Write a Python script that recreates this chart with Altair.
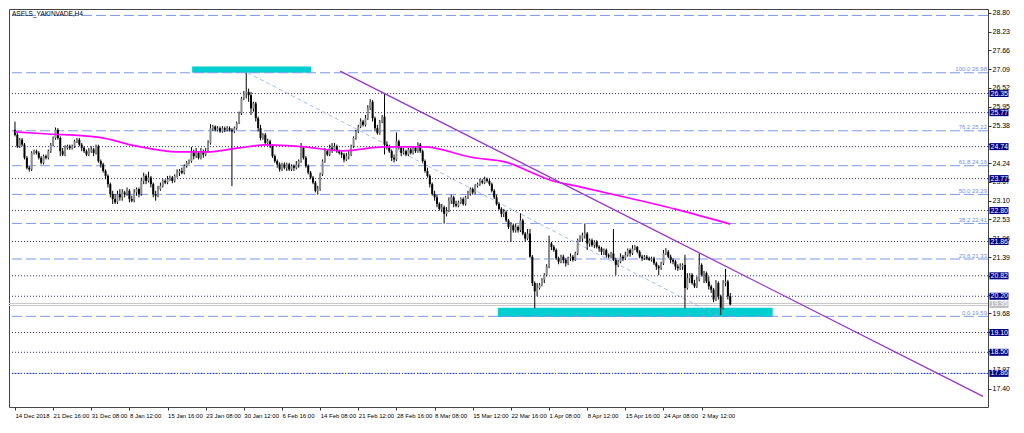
import altair as alt
import pandas as pd

# ---------------- data ----------------
symbol_title = "ASELS_YAKINVADE,H4"
first_open = 25.25

closes = [
    25.1, 24.75, 24.95, 24.8, 24.4, 24.1, 24.05, 24.55, 24.6, 24.55,
    24.4, 24.25, 24.45, 24.4, 24.6, 24.8, 25.0, 25.25, 25.0, 24.6,
    24.5, 24.7, 24.75, 24.7, 24.75, 24.9, 24.95, 24.8, 24.7, 24.6,
    24.5, 24.6, 24.65, 24.55, 24.75, 24.3, 24.2, 24.0, 23.85, 23.6,
    23.3, 23.15, 23.05, 23.3, 23.2, 23.35, 23.3, 23.4, 23.15, 23.1,
    23.35, 23.45, 23.3, 23.7, 23.85, 23.7, 23.8, 23.6, 23.3, 23.25,
    23.45, 23.55, 23.7, 23.65, 23.75, 23.8, 23.7, 23.85, 23.95, 24.0,
    23.95, 24.15, 24.25, 24.3, 24.6, 24.45, 24.55, 24.4, 24.6, 24.5,
    24.6, 24.85, 25.3, 25.35, 25.25, 25.3, 25.2, 25.3, 25.25, 25.3,
    25.25, 25.2, 25.3, 25.45, 25.75, 26.2, 26.35, 26.4, 26.3, 25.9,
    26.05, 25.6, 25.3, 25.0, 25.1, 24.85, 24.9, 24.75, 24.45, 24.3,
    24.2, 24.05, 24.2, 24.1, 24.2, 24.05, 24.15, 24.1, 24.2, 24.3,
    24.7, 24.4, 24.15, 23.95, 23.8, 23.65, 23.4, 23.45, 23.9, 24.3,
    24.6, 24.5, 24.7, 24.65, 24.75, 24.6, 24.55, 24.5, 24.35, 24.45,
    24.5, 24.75, 25.0, 25.2, 25.35, 25.5, 25.4, 25.6, 25.9, 26.1,
    25.6, 25.3, 25.15, 25.5, 25.65, 24.8, 24.75, 24.6, 24.4, 24.35,
    24.9, 24.7, 24.55, 24.6, 24.5, 24.65, 24.55, 24.7, 24.6, 24.8,
    24.6, 24.3, 24.0, 23.85, 23.6, 23.3, 23.2, 23.0, 22.85, 22.9,
    22.7, 22.8, 23.1, 23.2, 23.0, 22.95, 23.05, 23.15, 23.0, 23.2,
    23.3, 23.45, 23.35, 23.55, 23.6, 23.7, 23.65, 23.75, 23.7, 23.6,
    23.4, 23.2, 23.0, 22.85, 22.7, 22.75, 22.5, 22.3, 22.35, 22.2,
    22.3, 22.2, 22.5, 22.1, 21.95, 22.1, 21.4, 20.6, 20.35, 20.45,
    20.55, 20.7, 20.85, 21.1, 21.8, 21.7, 21.6, 21.35, 21.25, 21.4,
    21.3, 21.2, 21.35, 21.4, 21.3, 21.5, 21.9, 21.95, 22.05, 22.1,
    21.8, 21.9, 21.75, 21.85, 21.7, 21.65, 21.55, 21.6, 21.45, 21.4,
    21.5, 21.3, 21.15, 21.25, 21.4, 21.35, 21.45, 21.6, 21.5, 21.65,
    21.7, 21.55, 21.4, 21.35, 21.4, 21.35, 21.3, 21.35, 21.2, 21.1,
    21.05, 21.2, 21.5, 21.55, 21.4, 21.3, 21.25, 21.1, 21.05, 21.1,
    21.15, 20.45, 20.75, 20.85, 20.6, 20.5, 20.7, 21.15, 20.85, 20.9,
    20.65, 20.5, 20.4, 20.1, 20.6, 20.2, 19.85, 20.6, 20.65, 20.2, 19.95,
]

highs = [
    25.5, 25.15, 25.0, 25.0, 24.85, 24.45, 24.15, 24.6, 24.65, 24.65,
    24.6, 24.45, 24.5, 24.5, 24.65, 24.85, 25.05, 25.32, 25.3, 25.05,
    24.7, 24.78, 24.8, 24.8, 24.8, 24.95, 25.0, 25.0, 24.85, 24.75,
    24.65, 24.7, 24.75, 24.7, 24.8, 24.8, 24.35, 24.25, 24.05, 23.9,
    23.65, 23.4, 23.3, 23.4, 23.45, 23.45, 23.4, 23.5, 23.45, 23.25,
    23.45, 23.5, 23.5, 23.8, 23.95, 23.9, 23.98, 23.85, 23.65, 23.4,
    23.55, 23.65, 23.75, 23.75, 23.85, 23.86, 23.85, 23.9, 24.05, 24.06,
    24.1, 24.2, 24.3, 24.35, 24.73, 24.65, 24.7, 24.6, 24.7, 24.65,
    24.7, 24.93, 25.42, 25.4, 25.38, 25.36, 25.35, 25.36, 25.35, 25.36,
    25.35, 25.3, 25.35, 25.5, 25.8, 26.25, 26.43, 26.98, 26.5, 26.4,
    26.1, 26.1, 25.65, 25.4, 25.15, 25.15, 24.98, 24.95, 24.8, 24.5,
    24.35, 24.26, 24.25, 24.26, 24.25, 24.25, 24.2, 24.2, 24.3, 24.35,
    24.85, 24.75, 24.45, 24.2, 24.0, 23.85, 23.7, 23.55, 23.95, 24.35,
    24.7, 24.65, 24.8, 24.85, 24.85, 24.8, 24.65, 24.6, 24.55, 24.55,
    24.6, 24.8, 25.05, 25.25, 25.4, 25.6, 25.55, 25.7, 26.0, 26.18,
    26.15, 25.65, 25.4, 25.55, 25.7, 26.37, 24.9, 24.8, 24.65, 24.5,
    25.17, 24.95, 24.75, 24.7, 24.65, 24.7, 24.7, 24.75, 24.75, 24.87,
    24.85, 24.65, 24.35, 24.1, 23.9, 23.65, 23.4, 23.28, 23.05, 23.0,
    22.95, 22.9, 23.2, 23.28, 23.25, 23.1, 23.1, 23.2, 23.2, 23.25,
    23.4, 23.5, 23.5, 23.6, 23.65, 23.77, 23.75, 23.83, 23.8, 23.75,
    23.65, 23.45, 23.28, 23.05, 22.9, 22.85, 22.8, 22.55, 22.45, 22.41,
    22.41, 22.35, 22.72, 22.55, 22.15, 22.24, 22.24, 21.45, 20.65, 20.6,
    20.6, 20.75, 20.9, 21.17, 22.04, 21.85, 21.75, 21.65, 21.4, 21.46,
    21.46, 21.35, 21.4, 21.5, 21.45, 21.55, 21.95, 22.05, 22.13, 22.41,
    22.15, 21.95, 21.95, 21.9, 21.9, 21.75, 21.7, 21.65, 21.65, 21.5,
    21.55, 22.24, 21.37, 21.3, 21.5, 21.45, 21.55, 21.65, 21.65, 21.75,
    21.75, 21.72, 21.6, 21.46, 21.45, 21.45, 21.4, 21.4, 21.4, 21.25,
    21.15, 21.25, 21.6, 21.66, 21.6, 21.46, 21.35, 21.3, 21.17, 21.2,
    21.2, 21.46, 20.9, 20.9, 20.9, 20.7, 20.8, 21.5, 21.2, 20.97,
    20.95, 20.8, 20.55, 20.45, 20.69, 20.65, 20.25, 20.69, 21.03, 20.7, 20.3,
]

lows = [
    25.05, 24.7, 24.7, 24.75, 24.35, 24.05, 23.98, 24.0, 24.5, 24.5,
    24.35, 24.2, 24.2, 24.35, 24.35, 24.55, 24.75, 24.95, 24.95, 24.45,
    24.45, 24.45, 24.65, 24.64, 24.65, 24.7, 24.85, 24.75, 24.6, 24.55,
    24.45, 24.45, 24.55, 24.45, 24.5, 24.25, 24.1, 23.95, 23.75, 23.5,
    23.2, 23.0, 23.0, 23.0, 23.1, 23.1, 23.2, 23.25, 23.05, 23.05,
    23.05, 23.25, 23.2, 23.25, 23.6, 23.6, 23.65, 23.5, 23.2, 23.1,
    23.2, 23.4, 23.5, 23.6, 23.6, 23.7, 23.63, 23.65, 23.8, 23.85,
    23.9, 23.9, 24.1, 24.2, 24.25, 24.35, 24.4, 24.35, 24.35, 24.4,
    24.45, 24.55, 24.8, 25.22, 25.2, 25.2, 25.16, 25.16, 25.18, 25.2,
    25.2, 23.54, 25.15, 25.25, 25.42, 25.7, 26.15, 26.2, 26.1, 25.7,
    25.8, 25.5, 25.2, 24.93, 24.95, 24.8, 24.8, 24.7, 24.4, 24.25,
    24.1, 23.98, 24.0, 24.05, 24.0, 24.0, 24.0, 24.0, 24.05, 24.1,
    24.25, 24.35, 24.1, 23.9, 23.75, 23.6, 23.35, 23.28, 23.4, 23.85,
    24.25, 24.45, 24.45, 24.55, 24.6, 24.55, 24.5, 24.4, 24.26, 24.3,
    24.35, 24.45, 24.7, 24.95, 25.15, 25.3, 25.35, 25.35, 25.55, 25.85,
    25.5, 25.2, 25.1, 25.1, 25.45, 24.5, 24.65, 24.55, 24.3, 24.26,
    24.3, 24.65, 24.45, 24.5, 24.45, 24.45, 24.5, 24.5, 24.55, 24.55,
    24.55, 24.25, 23.95, 23.8, 23.5, 23.25, 23.1, 22.9, 22.8, 22.75,
    22.4, 22.62, 22.75, 23.0, 22.9, 22.9, 22.9, 23.0, 22.95, 22.95,
    23.15, 23.25, 23.28, 23.3, 23.5, 23.55, 23.6, 23.6, 23.65, 23.55,
    23.35, 23.15, 22.95, 22.82, 22.6, 22.6, 22.45, 22.24, 21.85, 22.13,
    22.13, 22.13, 22.15, 22.05, 21.85, 21.9, 21.37, 20.51, 19.83, 20.2,
    20.4, 20.5, 20.6, 20.8, 21.05, 21.6, 21.55, 21.3, 21.17, 21.2,
    21.2, 21.1, 21.15, 21.27, 21.25, 21.27, 21.45, 21.85, 21.85, 21.95,
    21.6, 21.7, 21.7, 21.66, 21.65, 21.55, 21.45, 21.45, 21.37, 21.35,
    21.35, 21.27, 20.84, 21.08, 21.2, 21.27, 21.3, 21.4, 21.4, 21.45,
    21.6, 21.5, 21.35, 21.27, 21.3, 21.3, 21.27, 21.25, 21.15, 21.0,
    20.84, 21.0, 21.15, 21.45, 21.35, 21.2, 21.17, 21.0, 20.97, 21.0,
    21.0, 19.83, 20.4, 20.6, 20.55, 20.45, 20.45, 20.65, 20.8, 20.6,
    20.6, 20.4, 20.3, 20.02, 20.05, 20.1, 19.63, 19.8, 20.5, 20.1, 19.93,
]

# moving average (magenta) read at a few bar positions
ma_bar = [0, 12.3, 35.5, 50.7, 68.2, 80.5, 94, 105, 121.3, 137.7,
          155, 171.6, 192, 206, 215, 224.7, 235.7, 253.3, 276.6, 300]
ma_val = [25.19, 25.13, 25.02, 24.76, 24.58, 24.58, 24.70, 24.79, 24.73, 24.61,
          24.73, 24.73, 24.41, 24.27, 24.01, 23.72, 23.54, 23.25, 22.85, 22.39]

# purple trend line and fibo diagonal (bar, price)
trend_bar = [136.4, 406.0]
trend_val = [27.03, 17.16]
fibdiag_bar = [97.6, 295.0]
fibdiag_val = [26.98, 19.59]

# cyan rectangles
rect_bar_start = [74.3, 202.6]
rect_bar_end = [124.2, 317.8]
rect_lo = [26.98, 19.57]
rect_hi = [27.17, 19.85]

# fibonacci horizontal levels (dashed light blue)
fib_levels = [28.72, 26.98, 25.22, 24.16, 23.29, 22.41, 21.33, 19.59, 17.86]
fib_texts = ["", "100.0 26.98", "76.2 25.22", "61.8 24.16", "50.0 23.29",
             "38.2 22.41", "23.6 21.33", "0.0 19.59", ""]

# horizontal support / resistance lines (dotted navy) and their labels
hline_levels = [26.35, 25.77, 24.74, 23.77, 22.80, 21.86, 20.82, 20.20, 19.10, 18.50, 17.86]
hline_texts = ["26.35", "25.77", "24.74", "23.77", "22.80", "21.86", "20.82",
               "20.20", "19.10", "18.50", "17.86"]

# current bid / ask
price_lines = [19.98, 19.92]
price_label_val = [19.95]
price_label_txt = ["19.95"]

# axes
y_ticks = [28.80, 28.23, 27.66, 27.09, 26.52, 25.95, 25.38, 24.81, 24.24, 23.67, 23.10,
           22.53, 21.96, 21.39, 20.82, 20.25, 19.68, 19.11, 18.54, 17.97, 17.40]
y_ticks_hidden = [24.81, 20.82, 20.25, 19.11, 18.54]
x_tick_bars = [0, 16, 32, 48, 64, 80, 96, 112, 128, 144, 160, 176, 192, 208, 224,
               240, 256, 272, 288]
x_tick_labels = ["14 Dec 2018", "21 Dec 16:00", "31 Dec 08:00", "8 Jan 12:00",
                 "15 Jan 16:00", "23 Jan 08:00", "30 Jan 12:00", "6 Feb 16:00",
                 "14 Feb 08:00", "21 Feb 12:00", "28 Feb 16:00", "8 Mar 08:00",
                 "15 Mar 12:00", "22 Mar 16:00", "1 Apr 08:00", "8 Apr 12:00",
                 "15 Apr 16:00", "24 Apr 08:00", "2 May 12:00"]

# ---------------- build tables ----------------
opens = [first_open] + closes[:-1]
bars = pd.DataFrame({
    "i": list(range(len(closes))),
    "o": opens, "h": highs, "l": lows, "c": closes,
})
bars["dir"] = ["up" if c >= o else "down" for o, c in zip(opens, closes)]

ma_df = pd.DataFrame({"i": ma_bar, "v": ma_val})
trend_df = pd.DataFrame({"i": trend_bar, "v": trend_val})
fibdiag_df = pd.DataFrame({"i": fibdiag_bar, "v": fibdiag_val})
rect_df = pd.DataFrame({"i0": rect_bar_start, "i1": rect_bar_end, "lo": rect_lo, "hi": rect_hi})
fib_df = pd.DataFrame({"v": fib_levels, "t": fib_texts})
hl_df = pd.DataFrame({"v": hline_levels, "t": hline_texts})
pl_df = pd.DataFrame({"v": price_lines})
plab_df = pd.DataFrame({"v": price_label_val, "t": price_label_txt})
title_df = pd.DataFrame({"t": [symbol_title]})

PW, PH = 979, 398
FONT = "Liberation Sans"

xscale = alt.Scale(domain=[-0.4, 406.0], nice=False, zero=False)
yscale = alt.Scale(domain=[16.84, 28.915], nice=False, zero=False)

x_lab_expr = "[" + ",".join("'%s'" % s for s in x_tick_labels) + "][round(datum.value/16)]"
y_lab_expr = ("indexof([" + ",".join("%.2f" % v for v in y_ticks_hidden) +
              "], datum.value) >= 0 ? '' : format(datum.value, '.2f')")

xaxis = alt.Axis(values=x_tick_bars, labelExpr=x_lab_expr, title=None, grid=False,
                 labelAlign="left", labelFontSize=6, labelFont=FONT, labelPadding=2,
                 tickSize=3, tickColor="#333", domain=False, labelColor="#000",
                 labelOverlap=False, labelFlush=False, labelBound=False)
yaxis = alt.Axis(orient="right", values=y_ticks, labelExpr=y_lab_expr, title=None,
                 grid=False, labelFontSize=7, labelFont=FONT, tickSize=3,
                 tickColor="#333", labelPadding=1, domain=False, labelColor="#000",
                 labelOverlap=False, labelFlush=False, labelBound=False)


def X(f):
    return alt.X(f, type="quantitative", scale=xscale, axis=xaxis)


def Y(f):
    return alt.Y(f, type="quantitative", scale=yscale, axis=yaxis)


rects = alt.Chart(rect_df).mark_rect(color="#00CED1").encode(
    x=X("i0"), x2="i1", y=Y("lo"), y2="hi")

fib_lines = alt.Chart(fib_df).mark_rule(color="#7d98ea", strokeWidth=1,
                                        strokeDash=[10, 4]).encode(y=Y("v"))
hlines = alt.Chart(hl_df).mark_rule(color="#30309a", strokeWidth=1,
                                    strokeDash=[1, 2]).encode(y=Y("v"))
plines = alt.Chart(pl_df).mark_rule(color="#c8c8c8", strokeWidth=1).encode(y=Y("v"))

fibdiag = alt.Chart(fibdiag_df).mark_line(color="#8aa8f0", strokeWidth=0.8,
                                          strokeDash=[4, 3], clip=True).encode(
    x=X("i"), y=Y("v"))

wicks = alt.Chart(bars).mark_rule(color="#000000", strokeWidth=1).encode(
    x=X("i"), y=Y("l"), y2="h")
bodies = alt.Chart(bars).mark_bar(size=2).encode(
    x=X("i"), y=Y("o"), y2="c",
    color=alt.Color("dir:N", scale=alt.Scale(domain=["up", "down"],
                                             range=["#8c8c8c", "#000000"]), legend=None))

ma_line = alt.Chart(ma_df).mark_line(color="#ff00ff", strokeWidth=1.7,
                                     interpolate="monotone", clip=True).encode(
    x=X("i"), y=Y("v"))
trend = alt.Chart(trend_df).mark_line(color="#9932CC", strokeWidth=1.3, clip=True).encode(
    x=X("i"), y=Y("v"))

fib_text = alt.Chart(fib_df).mark_text(align="right", baseline="bottom", fontSize=6,
                                       font=FONT, color="#6f8fe8", dy=-0.5).encode(
    x=alt.value(PW - 1), y=Y("v"), text="t:N")

boxes = alt.Chart(hl_df).mark_tick(orient="horizontal", size=19, thickness=7,
                                   color="#000080", opacity=1).encode(
    x=alt.value(PW + 11), y=Y("v"))
box_text = alt.Chart(hl_df).mark_text(align="left", baseline="middle", fontSize=7,
                                      font=FONT, color="#ffffff").encode(
    x=alt.value(PW + 2.5), y=Y("v"), text="t:N")
pbox = alt.Chart(plab_df).mark_tick(orient="horizontal", size=19, thickness=7,
                                    color="#c0c0c0", opacity=1).encode(
    x=alt.value(PW + 11), y=Y("v"))
pbox_text = alt.Chart(plab_df).mark_text(align="left", baseline="middle", fontSize=7,
                                         font=FONT, color="#ffffff").encode(
    x=alt.value(PW + 2.5), y=Y("v"), text="t:N")

title_txt = alt.Chart(title_df).mark_text(align="left", baseline="top", fontSize=6.5,
                                          font=FONT, color="#000000").encode(
    x=alt.value(3), y=alt.value(2), text="t:N")

chart = alt.layer(
    rects, fib_lines, hlines, plines, fibdiag, wicks, bodies, ma_line, trend,
    fib_text, boxes, box_text, pbox, pbox_text, title_txt
).properties(
    width=PW, height=PH,
    autosize=alt.AutoSizeParams(type="none"),
    padding={"left": 1, "top": 1, "right": 28, "bottom": 13},
    background="#ffffff",
).configure_view(stroke="#444444", strokeWidth=1)

chart.save("out.html", embed_options={"renderer": "svg", "actions": False})
